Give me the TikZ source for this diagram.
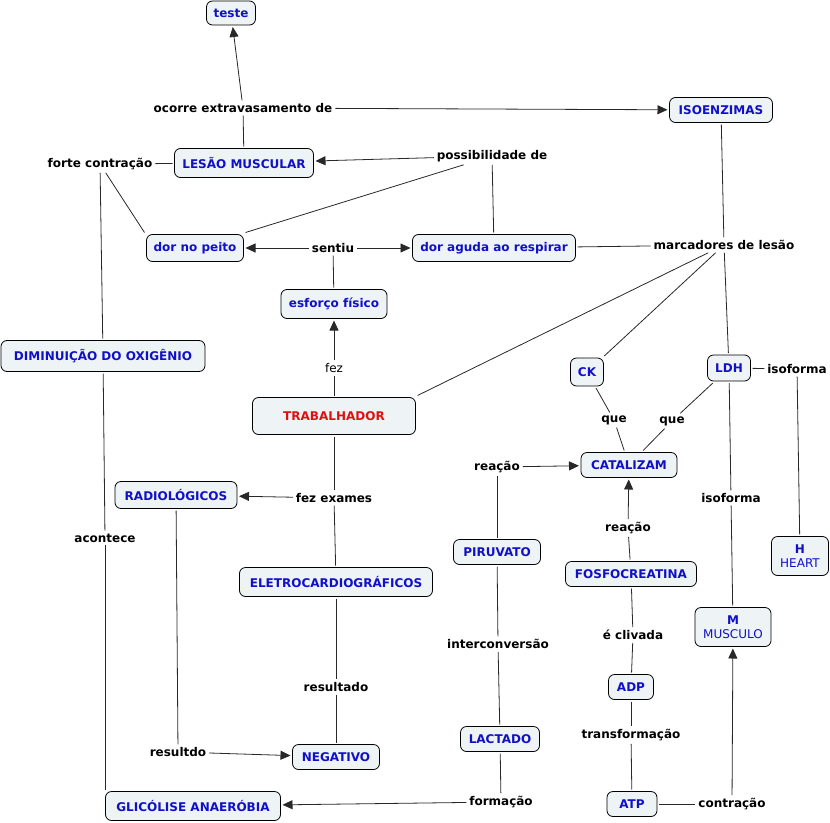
\documentclass[tikz,border=0pt]{standalone}
\usepackage{fontspec}
\setmainfont{DejaVu Sans}
\usetikzlibrary{arrows.meta}
\definecolor{boxfill}{RGB}{238,243,245}
\definecolor{cblue}{RGB}{16,16,200}
\definecolor{cred}{RGB}{221,17,17}
\definecolor{linec}{RGB}{40,40,40}
\tikzset{
  concept/.style={draw=black, line width=0.8bp, rounded corners=6bp, fill=boxfill,
    text=cblue, font=\fontsize{12bp}{14bp}\selectfont\bfseries, inner sep=0pt, align=center, outer sep=2bp},
  lab/.style={font=\fontsize{12bp}{14bp}\selectfont\bfseries, text=black, inner sep=2bp, outer sep=1bp},
  plainlab/.style={font=\fontsize{12bp}{14bp}\selectfont, text=black, inner sep=2bp, outer sep=1bp},
  link/.style={draw=linec, line width=0.8bp},
  arr/.style={draw=linec, line width=0.8bp, -{Triangle[length=10bp,width=9bp]}},
}
\begin{document}
\begin{tikzpicture}[x=1bp, y=-1bp]
\useasboundingbox (0,0) rectangle (830,823);
% concepts
\node[concept, minimum width=49bp, minimum height=24bp] (teste) at (231,13) {teste};
\node[concept, minimum width=103bp, minimum height=25bp] (iso) at (721,110) {ISOENZIMAS};
\node[concept, minimum width=139bp, minimum height=29bp] (lesao) at (244,163) {LESÃO MUSCULAR};
\node[concept, minimum width=97bp, minimum height=27bp] (dnp) at (195,248) {dor no peito};
\node[concept, minimum width=163bp, minimum height=27bp] (dar) at (494,248) {dor aguda ao respirar};
\node[concept, minimum width=106bp, minimum height=29bp] (esf) at (334,304) {esforço físico};
\node[concept, minimum width=204bp, minimum height=31bp] (dim) at (103,356) {DIMINUIÇÃO DO OXIGÊNIO};
\node[concept, minimum width=33bp, minimum height=28bp] (ck) at (587,372) {CK};
\node[concept, minimum width=43bp, minimum height=26bp] (ldh) at (729,368) {LDH};
\node[concept, minimum width=163bp, minimum height=37bp, text=cred] (trab) at (334,416) {TRABALHADOR};
\node[concept, minimum width=96bp, minimum height=25bp] (cat) at (629,465) {CATALIZAM};
\node[concept, minimum width=122bp, minimum height=27bp] (rad) at (176,495) {RADIOLÓGICOS};
\node[concept, minimum width=87bp, minimum height=25bp] (piru) at (497,552) {PIRUVATO};
\node[concept, minimum width=57bp, minimum height=39bp] (h) at (800,556) {H\\{\mdseries HEART}};
\node[concept, minimum width=131bp, minimum height=25bp] (fosfo) at (631,574) {FOSFOCREATINA};
\node[concept, minimum width=193bp, minimum height=29bp] (eletro) at (336,582) {ELETROCARDIOGRÁFICOS};
\node[concept, minimum width=76bp, minimum height=39bp] (m) at (733,627) {M\\{\mdseries MUSCULO}};
\node[concept, minimum width=45bp, minimum height=25bp] (adp) at (631,687) {ADP};
\node[concept, minimum width=79bp, minimum height=25bp] (lact) at (500,739) {LACTADO};
\node[concept, minimum width=87bp, minimum height=25bp] (neg) at (336,757) {NEGATIVO};
\node[concept, minimum width=175bp, minimum height=29bp] (glic) at (193,806) {GLICÓLISE ANAERÓBIA};
\node[concept, minimum width=50bp, minimum height=25bp] (atp) at (632,804) {ATP};
% linking phrases
\node[lab] (oco) at (243,108) {ocorre extravasamento de};
\node[lab] (forte) at (100,164) {forte contração};
\node[lab] (poss) at (492,156) {possibilidade de};
\node[lab] (sent) at (333,248) {sentiu};
\node[lab] (marc) at (724,245) {marcadores de lesão};
\node[plainlab] (fez) at (334,368) {fez};
\node[lab] (isof1) at (797,369) {isoforma};
\node[lab] (que1) at (614,420) {que};
\node[lab] (que2) at (672,421) {que};
\node[lab] (reac1) at (497,467) {reação};
\node[lab] (fezex) at (334,498) {fez exames};
\node[lab] (acon) at (105,538) {acontece};
\node[lab] (isof2) at (731,498) {isoforma};
\node[lab] (reac2) at (628,528) {reação};
\node[lab] (inter) at (498,644) {interconversão};
\node[lab] (cliv) at (633,635) {é clivada};
\node[lab] (resul) at (336,687) {resultado};
\node[lab] (resd) at (178,752) {resultdo};
\node[lab] (transf) at (631,735) {transformação};
\node[lab] (form) at (501,802) {formação};
\node[lab] (contr) at (732,804) {contração};
% connectors
\draw[link] (lesao) -- (oco);
\draw[arr] (oco) -- (teste);
\draw[arr] (oco) -- (iso);
\draw[arr] (poss) -- (lesao);
\draw[link] (dnp.north east) -- (poss);
\draw[link] (dar) -- (poss);
\draw[link] (lesao) -- (forte);
\draw[link] (forte) -- (dnp.north west);
\draw[link] (forte) -- (dim);
\draw[link] (dim) -- (acon);
\draw[link] (acon.south) -- (acon.south |- glic.north);
\draw[link] (esf) -- (sent);
\draw[arr] (sent) -- (dnp);
\draw[arr] (sent) -- (dar);
\draw[link] (dar) -- (marc);
\draw[link] (iso) -- (marc);
\draw[link] (marc) -- (ldh);
\draw[link] (marc) -- (ck);
\draw[link] (marc) -- (trab.north east);
\draw[link] (trab) -- (fez);
\draw[arr] (fez) -- (esf);
\draw[link] (ck) -- (que1);
\draw[link] (que1) -- (cat);
\draw[link] (ldh) -- (que2);
\draw[link] (que2) -- (cat);
\draw[link] (ldh) -- (isof1);
\draw[link] (isof1) -- (h);
\draw[link] (ldh) -- (isof2);
\draw[link] (isof2) -- (m);
\draw[link] (trab) -- (fezex);
\draw[arr] (fezex) -- (rad);
\draw[link] (fezex) -- (eletro);
\draw[link] (eletro) -- (resul);
\draw[link] (resul) -- (neg);
\draw[link] (rad) -- (resd);
\draw[arr] (resd) -- (neg);
\draw[link] (piru) -- (reac1);
\draw[arr] (reac1) -- (cat);
\draw[link] (piru) -- (inter);
\draw[link] (inter) -- (lact);
\draw[link] (lact) -- (form);
\draw[arr] (form) -- (glic);
\draw[link] (fosfo) -- (reac2);
\draw[arr] (reac2) -- (cat);
\draw[link] (fosfo) -- (cliv);
\draw[link] (cliv) -- (adp);
\draw[link] (adp) -- (transf);
\draw[link] (transf) -- (atp);
\draw[link] (atp) -- (contr);
\draw[arr] (contr) -- (m);
\end{tikzpicture}
\end{document}
